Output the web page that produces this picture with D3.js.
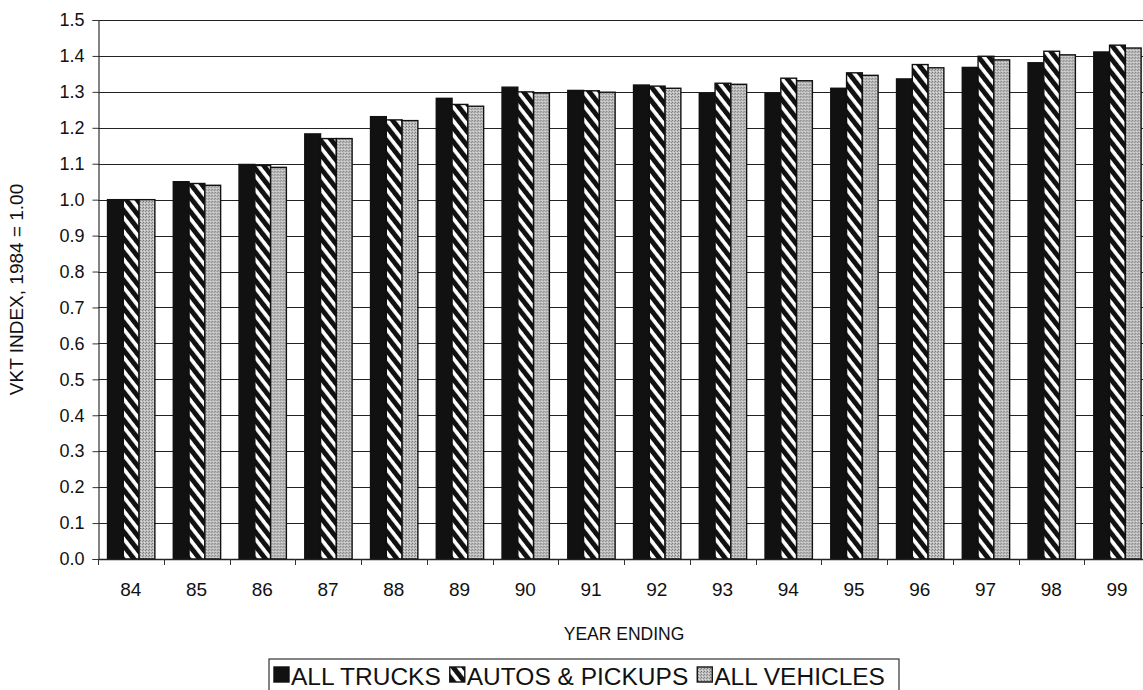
<!DOCTYPE html>
<html>
<head>
<meta charset="utf-8">
<script src="https://cdn.jsdelivr.net/npm/d3@7"></script>
<style>
  body { margin: 0; background: #fff; }
  svg { display: block; font-family: "Liberation Sans", Arial, sans-serif; }
</style>
</head>
<body>
<div id="wrapper"></div>
<script>
// data
const years = ["84", "85", "86", "87", "88", "89", "90", "91", "92", "93", "94", "95", "96", "97", "98", "99"]
const allTrucks = [1.0, 1.05, 1.098, 1.183, 1.231, 1.282, 1.313, 1.304, 1.319, 1.296, 1.296, 1.31, 1.336, 1.368, 1.381, 1.411]
const autosPickups = [1.0, 1.045, 1.095, 1.17, 1.222, 1.265, 1.3, 1.303, 1.316, 1.324, 1.338, 1.353, 1.376, 1.399, 1.413, 1.43]
const allVehicles = [1.0, 1.04, 1.09, 1.17, 1.22, 1.26, 1.297, 1.299, 1.31, 1.321, 1.331, 1.346, 1.367, 1.389, 1.403, 1.422]
const seriesNames = ["ALL TRUCKS", "AUTOS & PICKUPS", "ALL VEHICLES"]
const yTicks = d3.range(0, 16).map(i => i / 10)

const seriesValues = [allTrucks, autosPickups, allVehicles]
const fills = ["#111", "url(#hatch)", "url(#stipple)"]

const dimensions = {
    width: 1143,
    height: 690,
    margin: { top: 20, left: 98, bottom: 131 },
    plotRight: 1150,
}
const plotBottom = dimensions.height - dimensions.margin.bottom

const svg = d3.select("#wrapper")
    .append("svg")
    .attr("width", dimensions.width)
    .attr("height", dimensions.height)

const defs = svg.append("defs")

// diagonal stripes for autos & pickups
const hatch = defs.append("pattern")
    .attr("id", "hatch")
    .attr("patternUnits", "userSpaceOnUse")
    .attr("width", 8.6)
    .attr("height", 10)
    .attr("patternTransform", "rotate(-38)")
hatch.append("rect").attr("width", 8.6).attr("height", 10).attr("fill", "#fff")
hatch.append("rect").attr("width", 4.9).attr("height", 10).attr("fill", "#111")

// grey dotted fill for all vehicles
const stipple = defs.append("pattern")
    .attr("id", "stipple")
    .attr("patternUnits", "userSpaceOnUse")
    .attr("width", 3)
    .attr("height", 3)
stipple.append("rect").attr("width", 3).attr("height", 3).attr("fill", "#bdbdbd")
stipple.append("rect").attr("x", 0).attr("y", 0).attr("width", 1).attr("height", 1).attr("fill", "#7a7a7a")
stipple.append("rect").attr("x", 2).attr("y", 1).attr("width", 1).attr("height", 1).attr("fill", "#8a8a8a")
stipple.append("rect").attr("x", 1).attr("y", 2).attr("width", 1).attr("height", 1).attr("fill", "#e0e0e0")

// scales
const xScale = d3.scaleBand()
    .domain(years)
    .range([dimensions.margin.left, dimensions.plotRight])

const bw = xScale.bandwidth()
const xInner = d3.scaleBand()
    .domain(d3.range(3))
    .range([bw * 0.145, bw * 0.865])

const yScale = d3.scaleLinear()
    .domain([0, 1.5])
    .range([plotBottom, dimensions.margin.top])

// gridlines
svg.append("g")
    .selectAll("line")
    .data(yTicks.slice(1))
    .join("line")
    .attr("x1", dimensions.margin.left)
    .attr("x2", dimensions.plotRight)
    .attr("y1", d => Math.round(yScale(d)) + 0.5)
    .attr("y2", d => Math.round(yScale(d)) + 0.5)
    .attr("stroke", "#222")
    .attr("stroke-width", 1.2)

// bars
const groups = svg.append("g")
    .selectAll("g")
    .data(years)
    .join("g")
    .attr("transform", d => `translate(${xScale(d)},0)`)

groups.selectAll("rect")
    .data((d, i) => seriesValues.map((s, k) => ({ k, v: s[i] })))
    .join("rect")
    .attr("x", d => xInner(d.k))
    .attr("width", xInner.bandwidth())
    .attr("y", d => yScale(d.v))
    .attr("height", d => plotBottom - yScale(d.v))
    .attr("fill", d => fills[d.k])
    .attr("stroke", "#111")
    .attr("stroke-width", 1.4)

// y axis
const yAxisGenerator = d3.axisLeft(yScale)
    .tickValues(yTicks)
    .tickFormat(d3.format(".1f"))
    .tickSize(6)
    .tickPadding(8)

const yAxis = svg.append("g")
    .attr("transform", `translate(${dimensions.margin.left + 0.5},0)`)
    .call(yAxisGenerator)
yAxis.select(".domain").attr("stroke", "#333").attr("stroke-width", 1.2)
yAxis.selectAll(".tick line").attr("stroke", "#333")
yAxis.selectAll("text")
    .attr("font-size", 18)
    .attr("fill", "#111")
    .style("font-family", "Liberation Sans, Arial, sans-serif")

// x axis
svg.append("line")
    .attr("x1", dimensions.margin.left)
    .attr("x2", dimensions.plotRight)
    .attr("y1", plotBottom + 0.5)
    .attr("y2", plotBottom + 0.5)
    .attr("stroke", "#222")
    .attr("stroke-width", 1.3)

svg.append("g")
    .selectAll("line")
    .data(years)
    .join("line")
    .attr("x1", d => Math.round(xScale(d)) + 0.5)
    .attr("x2", d => Math.round(xScale(d)) + 0.5)
    .attr("y1", plotBottom)
    .attr("y2", plotBottom + 6)
    .attr("stroke", "#333")

svg.append("g")
    .selectAll("text")
    .data(years)
    .join("text")
    .attr("x", d => xScale(d) + bw / 2)
    .attr("y", plotBottom + 37)
    .attr("text-anchor", "middle")
    .attr("font-size", 19)
    .attr("fill", "#111")
    .text(d => d)

// axis titles
svg.append("text")
    .attr("x", (dimensions.margin.left + dimensions.plotRight) / 2)
    .attr("y", 640)
    .attr("text-anchor", "middle")
    .attr("font-size", 17.5)
    .attr("fill", "#111")
    .text("YEAR ENDING")

svg.append("text")
    .attr("transform", `translate(23,${(plotBottom + dimensions.margin.top) / 2}) rotate(-90)`)
    .attr("text-anchor", "middle")
    .attr("font-size", 19)
    .attr("fill", "#111")
    .text("VKT INDEX, 1984 = 1.00")

// legend
const legend = svg.append("g").attr("transform", "translate(269,659)")
legend.append("rect")
    .attr("width", 630)
    .attr("height", 34)
    .attr("fill", "#fff")
    .attr("stroke", "#333")
    .attr("stroke-width", 1.2)

let lx = 5
seriesNames.forEach((name, k) => {
    legend.append("rect")
        .attr("x", lx)
        .attr("y", 8)
        .attr("width", 15)
        .attr("height", 15)
        .attr("fill", fills[k])
        .attr("stroke", "#111")
        .attr("stroke-width", 1.4)
    const t = legend.append("text")
        .attr("x", lx + 17)
        .attr("y", 26)
        .attr("font-size", 24.5)
        .attr("fill", "#111")
        .text(name)
    lx += 17 + t.node().getComputedTextLength() + 9
})
</script>
</body>
</html>
